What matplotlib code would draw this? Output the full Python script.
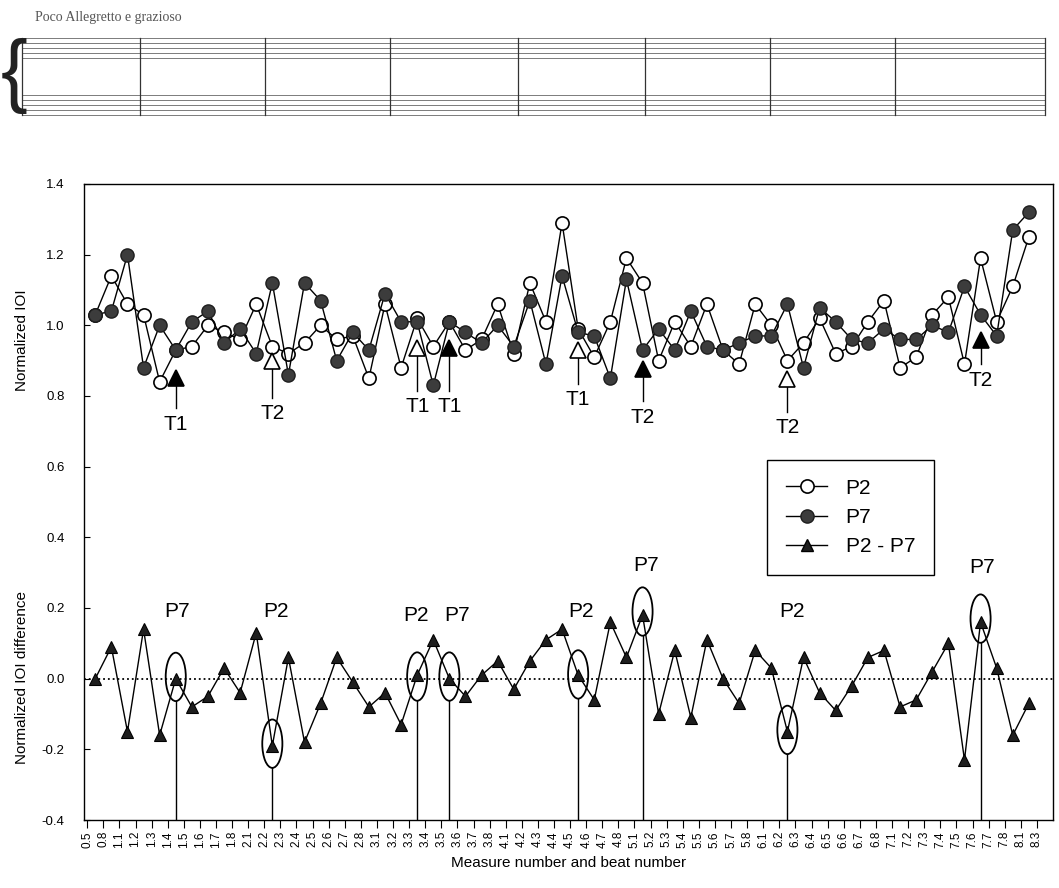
import numpy as np
import matplotlib.pyplot as plt
from matplotlib.patches import Ellipse
from matplotlib.lines import Line2D

plt.rcParams['font.family'] = ['Liberation Sans', 'DejaVu Sans']

# beat positions (measure.beat)
labels = ['0.5', '0.8', '1.1', '1.2', '1.3', '1.4', '1.5', '1.6', '1.7', '1.8',
          '2.1', '2.2', '2.3', '2.4', '2.5', '2.6', '2.7', '2.8',
          '3.1', '3.2', '3.3', '3.4', '3.5', '3.6', '3.7', '3.8',
          '4.1', '4.2', '4.3', '4.4', '4.5', '4.6', '4.7', '4.8',
          '5.1', '5.2', '5.3', '5.4', '5.5', '5.6', '5.7', '5.8',
          '6.1', '6.2', '6.3', '6.4', '6.5', '6.6', '6.7', '6.8',
          '7.1', '7.2', '7.3', '7.4', '7.5', '7.6', '7.7', '7.8', '8.1', '8.3']

p2 = [1.03, 1.14, 1.06, 1.03, 0.84, 0.93, 0.94, 1.00, 0.98, 0.96,
      1.06, 0.94, 0.92, 0.95, 1.00, 0.96, 0.97, 0.85,
      1.06, 0.88, 1.02, 0.94, 1.01, 0.93, 0.96, 1.06,
      0.92, 1.12, 1.01, 1.29, 0.99, 0.91, 1.01, 1.19,
      1.12, 0.90, 1.01, 0.94, 1.06, 0.93, 0.89, 1.06,
      1.00, 0.90, 0.95, 1.02, 0.92, 0.94, 1.01, 1.07,
      0.88, 0.91, 1.03, 1.08, 0.89, 1.19, 1.01, 1.11, 1.25]

p7 = [1.03, 1.04, 1.20, 0.88, 1.00, 0.93, 1.01, 1.04, 0.95, 0.99,
      0.92, 1.12, 0.86, 1.12, 1.07, 0.90, 0.98, 0.93,
      1.09, 1.01, 1.01, 0.83, 1.01, 0.98, 0.95, 1.00,
      0.94, 1.07, 0.89, 1.14, 0.98, 0.97, 0.85, 1.13,
      0.93, 0.99, 0.93, 1.04, 0.94, 0.93, 0.95, 0.97,
      0.97, 1.06, 0.88, 1.05, 1.01, 0.96, 0.95, 0.99,
      0.96, 0.96, 1.00, 0.98, 1.11, 1.03, 0.97, 1.27, 1.32]

diff = [0.00, 0.09, -0.15, 0.14, -0.16, 0.00, -0.08, -0.05, 0.03, -0.04,
        0.13, -0.19, 0.06, -0.18, -0.07, 0.06, -0.01, -0.08,
        -0.04, -0.13, 0.01, 0.11, 0.00, -0.05, 0.01, 0.05,
        -0.03, 0.05, 0.11, 0.14, 0.01, -0.06, 0.16, 0.06,
        0.18, -0.10, 0.08, -0.11, 0.11, 0.00, -0.07, 0.08,
        0.03, -0.15, 0.06, -0.04, -0.09, -0.02, 0.06, 0.08,
        -0.08, -0.06, 0.02, 0.10, -0.23, 0.16, 0.03, -0.16, -0.07]

# T1 / T2 markers in upper curve
t_idx = [5, 11, 20, 22, 30, 34, 43, 55]
t_lab = ['T1', 'T2', 'T1', 'T1', 'T1', 'T2', 'T2', 'T2']
t_val = [0.85, 0.90, 0.935, 0.935, 0.93, 0.877, 0.848, 0.959]
t_filled = [True, False, False, True, False, True, False, True]
t_texty = [0.72, 0.75, 0.77, 0.77, 0.79, 0.74, 0.71, 0.845]

# circled points in the difference curve
c_idx = [5, 11, 20, 22, 30, 34, 43, 55]
c_lab = ['P7', 'P2', 'P2', 'P7', 'P2', 'P7', 'P2', 'P7']
c_val = [0.005, -0.184, 0.006, 0.006, 0.012, 0.19, -0.145, 0.17]
c_textx = [5.6, 11.7, 20.4, 23.0, 30.7, 34.7, 43.8, 55.6]
c_texty = [0.19, 0.19, 0.18, 0.18, 0.19, 0.32, 0.19, 0.315]

W, H = 1059, 888
fig = plt.figure(figsize=(W / 100, H / 100), dpi=100)

# ---- score strip on top (simplified) ----
sc = fig.add_axes([0, 1 - 160 / H, 1, 160 / H])
sc.set_xlim(0, W)
sc.set_ylim(160, 0)
sc.axis('off')
sc.text(35, 18, 'Poco Allegretto e grazioso', family=['Liberation Serif', 'DejaVu Serif'],
        fontsize=10, color='#555555', va='center')
staff_top = [38, 95]
for top in staff_top:
    for k in range(5):
        sc.plot([22, 1045], [top + 5 * k, top + 5 * k], color='#666666', lw=0.6)
for bx in [22, 140, 265, 390, 518, 645, 770, 895, 1045]:
    sc.plot([bx, bx], [38, 115], color='#333333', lw=0.9)
sc.text(14, 76, '{', fontsize=58, va='center', ha='center', color='#222222')

# ---- main chart ----
ax = fig.add_axes([84 / W, 1 - 820 / H, (1053 - 84) / W, (820 - 184) / H])
x = np.arange(len(p2)) + 0.5

ax.axhline(0, ls=':', color='black', lw=1.3, zorder=1)
ax.plot(x, p2, '-', color='black', lw=1.0, marker='o', ms=9.5,
        mfc='white', mec='black', mew=1.2, zorder=3, label='P2')
ax.plot(x, p7, '-', color='black', lw=1.0, marker='o', ms=9.5,
        mfc='#3c3c3c', mec='#1e1e1e', mew=1.0, zorder=4, label='P7')
ax.plot(x, diff, '-', color='black', lw=1.0, marker='^', ms=9,
        mfc='#1e1e1e', mec='black', mew=0.8, zorder=3, label='P2 - P7')

for i, lab, v, filled, ty in zip(t_idx, t_lab, t_val, t_filled, t_texty):
    xi = i + 0.5
    ax.plot([xi, xi], [ty + 0.045, v - 0.02], color='black', lw=1.0, zorder=5)
    ax.plot(xi, v, marker='^', ms=11, mfc='black' if filled else 'white',
            mec='black', mew=1.2, zorder=6)
    ax.text(xi, ty, lab, ha='center', va='center', fontsize=15, zorder=6)

for i, lab, v, tx, ty in zip(c_idx, c_lab, c_val, c_textx, c_texty):
    xi = i + 0.5
    ax.add_patch(Ellipse((xi, v), width=1.25, height=0.137, fill=False,
                         ec='black', lw=1.3, zorder=5))
    ax.plot([xi, xi], [-0.4, v - 0.0685], color='black', lw=1.0, zorder=5)
    ax.text(tx, ty, lab, ha='center', va='center', fontsize=15, zorder=6)

ax.set_xlim(-0.2, 60)
ax.set_ylim(-0.4, 1.4)
ax.set_xticks(np.arange(len(labels)))
ax.set_xticklabels(labels, rotation=90, fontsize=8.5)
ax.set_yticks(np.arange(-0.4, 1.41, 0.2))
ax.set_yticklabels(['%.1f' % v for v in np.arange(-0.4, 1.41, 0.2)], fontsize=9.5)
ax.tick_params(axis='x', direction='out', length=6, width=0.8, pad=2)
ax.tick_params(axis='y', direction='in', length=4, width=0.8, pad=14)
for s in ax.spines.values():
    s.set_linewidth(1.0)
ax.set_xlabel('Measure number and beat number', fontsize=11, labelpad=6)

fig.text(22 / W, 1 - 340 / H, 'Normalized IOI', rotation=90, ha='center',
         va='center', fontsize=11)
fig.text(22 / W, 1 - 677 / H, 'Normalized IOI difference', rotation=90,
         ha='center', va='center', fontsize=11)

handles = [
    Line2D([], [], color='black', lw=1.0, marker='o', ms=9.5, mfc='white', mec='black', mew=1.2),
    Line2D([], [], color='black', lw=1.0, marker='o', ms=9.5, mfc='#3c3c3c', mec='#1e1e1e'),
    Line2D([], [], color='black', lw=1.0, marker='^', ms=9, mfc='#1e1e1e', mec='black'),
]
leg = ax.legend(handles, ['P2', 'P7', 'P2 - P7'], loc='lower right',
                bbox_to_anchor=(0.877, 0.385), borderaxespad=0, fontsize=15,
                handlelength=2.0, fancybox=False, framealpha=1, edgecolor='black',
                borderpad=0.9, labelspacing=0.5, handletextpad=0.87)
leg.get_frame().set_linewidth(1.0)

fig.savefig('out.png', dpi=100)
